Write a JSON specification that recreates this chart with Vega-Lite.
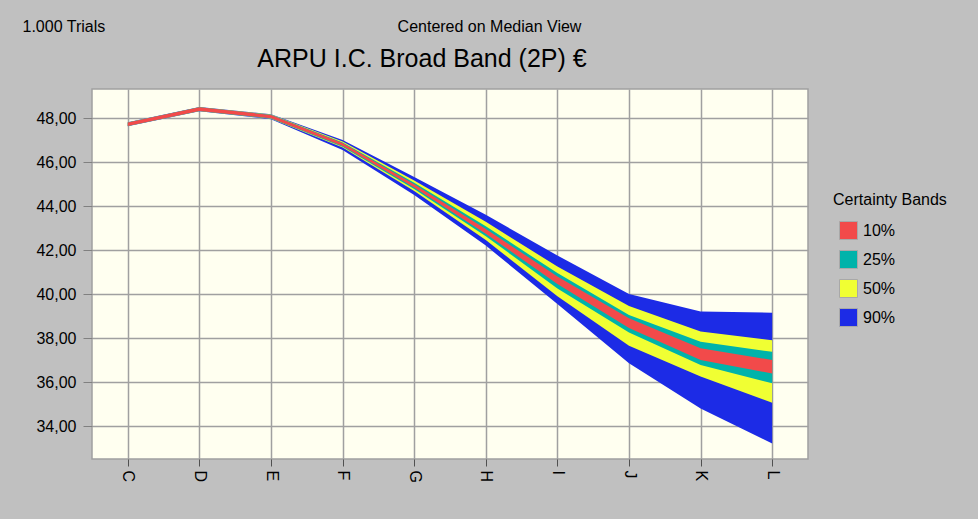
{
  "$schema": "https://vega.github.io/schema/vega-lite/v6.json",
  "width": 716,
  "height": 370,
  "autosize": {"type": "none"},
  "padding": {"left": 92, "top": 89, "right": 170, "bottom": 60},
  "background": "#C0C0C0",
  "title": {
    "text": "ARPU I.C. Broad Band (2P) €",
    "fontSize": 25,
    "fontWeight": "normal",
    "font": "Liberation Sans",
    "color": "#000000",
    "anchor": "middle",
    "frame": "group",
    "dx": -28,
    "offset": -79,
    "baseline": "bottom"
  },
  "data": {
    "values": [
      {"x": "C", "band": "90%", "lo": 47.63, "hi": 47.81},
      {"x": "D", "band": "90%", "lo": 48.31, "hi": 48.50},
      {"x": "E", "band": "90%", "lo": 47.95, "hi": 48.17},
      {"x": "F", "band": "90%", "lo": 46.55, "hi": 47.00},
      {"x": "G", "band": "90%", "lo": 44.50, "hi": 45.32},
      {"x": "H", "band": "90%", "lo": 42.20, "hi": 43.60},
      {"x": "I", "band": "90%", "lo": 39.55, "hi": 41.75},
      {"x": "J", "band": "90%", "lo": 36.85, "hi": 40.00},
      {"x": "K", "band": "90%", "lo": 34.80, "hi": 39.20},
      {"x": "L", "band": "90%", "lo": 33.20, "hi": 39.15},
      {"x": "C", "band": "50%", "lo": 47.64, "hi": 47.80},
      {"x": "D", "band": "50%", "lo": 48.32, "hi": 48.49},
      {"x": "E", "band": "50%", "lo": 47.97, "hi": 48.16},
      {"x": "F", "band": "50%", "lo": 46.66, "hi": 46.93},
      {"x": "G", "band": "50%", "lo": 44.68, "hi": 45.16},
      {"x": "H", "band": "50%", "lo": 42.45, "hi": 43.28},
      {"x": "I", "band": "50%", "lo": 39.90, "hi": 41.25},
      {"x": "J", "band": "50%", "lo": 37.65, "hi": 39.45},
      {"x": "K", "band": "50%", "lo": 36.25, "hi": 38.30},
      {"x": "L", "band": "50%", "lo": 35.06, "hi": 37.90},
      {"x": "C", "band": "25%", "lo": 47.64, "hi": 47.80},
      {"x": "D", "band": "25%", "lo": 48.32, "hi": 48.49},
      {"x": "E", "band": "25%", "lo": 47.98, "hi": 48.15},
      {"x": "F", "band": "25%", "lo": 46.70, "hi": 46.89},
      {"x": "G", "band": "25%", "lo": 44.77, "hi": 45.06},
      {"x": "H", "band": "25%", "lo": 42.63, "hi": 43.08},
      {"x": "I", "band": "25%", "lo": 40.25, "hi": 40.95},
      {"x": "J", "band": "25%", "lo": 38.25, "hi": 39.05},
      {"x": "K", "band": "25%", "lo": 36.77, "hi": 37.83},
      {"x": "L", "band": "25%", "lo": 35.94, "hi": 37.37},
      {"x": "C", "band": "10%", "lo": 47.64, "hi": 47.80},
      {"x": "D", "band": "10%", "lo": 48.32, "hi": 48.49},
      {"x": "E", "band": "10%", "lo": 47.99, "hi": 48.14},
      {"x": "F", "band": "10%", "lo": 46.73, "hi": 46.86},
      {"x": "G", "band": "10%", "lo": 44.84, "hi": 44.99},
      {"x": "H", "band": "10%", "lo": 42.74, "hi": 42.96},
      {"x": "I", "band": "10%", "lo": 40.45, "hi": 40.80},
      {"x": "J", "band": "10%", "lo": 38.45, "hi": 38.90},
      {"x": "K", "band": "10%", "lo": 37.00, "hi": 37.53},
      {"x": "L", "band": "10%", "lo": 36.39, "hi": 37.00}
    ]
  },
  "encoding": {
    "y": {
      "field": "lo",
      "type": "quantitative",
      "scale": {"domain": [32.5, 49.32], "nice": false, "zero": false},
      "title": "1.000 Trials",
      "axis": {
        "orient": "left",
        "values": [34, 36, 38, 40, 42, 44, 46, 48],
        "labelExpr": "replace(format(datum.value, '.2f'), '.', ',')",
        "labelFontSize": 16,
        "labelFont": "Liberation Sans",
        "labelColor": "#000000",
        "tickSize": 9,
        "tickColor": "#808080",
        "labelPadding": 7,
        "domain": false,
        "grid": true,
        "gridColor": "#A0A0A0",
        "gridWidth": 1.5,
        "gridOpacity": 1,
        "zindex": 0,
        "titleAngle": 0,
        "titleX": -70,
        "titleY": -58,
        "titleAlign": "left",
        "titleBaseline": "alphabetic",
        "titleFontSize": 16,
        "titleFontWeight": "normal",
        "titleFont": "Liberation Sans",
        "titleColor": "#000000"
      }
    },
    "y2": {"field": "hi"},
    "color": {
      "field": "band",
      "type": "nominal",
      "scale": {
        "domain": ["10%", "25%", "50%", "90%"],
        "range": ["#F24A4A", "#00B3AA", "#F0FF33", "#1C2BE6"]
      },
      "legend": {
        "orient": "none",
        "legendX": 741,
        "legendY": 103,
        "title": "Certainty Bands",
        "titleFontSize": 16,
        "titleFontWeight": "normal",
        "titleColor": "#000000",
        "titleFont": "Liberation Sans",
        "titlePadding": 13,
        "labelFontSize": 16,
        "labelColor": "#000000",
        "labelFont": "Liberation Sans",
        "labelOffset": 5,
        "symbolType": "square",
        "symbolSize": 324,
        "symbolOffset": 6,
        "symbolStrokeColor": "#A8A8A8",
        "symbolStrokeWidth": 1,
        "symbolOpacity": 1,
        "rowPadding": 6,
        "padding": 0
      }
    }
  },
  "layer": [
    {
      "transform": [{"filter": "datum.band === '90%'"}],
      "mark": {"type": "area", "interpolate": "linear", "opacity": 1},
      "encoding": {
        "x": {
          "field": "x",
          "type": "nominal",
          "sort": null,
          "scale": {"type": "point", "padding": 0.5},
          "axis": {
            "orient": "bottom",
            "title": null,
            "labelAngle": 90,
            "labelAlign": "left",
            "labelBaseline": "middle",
            "labelFontSize": 16,
            "labelFont": "Liberation Sans",
            "labelColor": "#000000",
            "tickSize": 7,
            "tickColor": "#505050",
            "tickWidth": 1,
            "labelPadding": 4,
            "domain": false,
            "grid": true,
            "gridColor": "#A0A0A0",
            "gridWidth": 1.5,
            "gridOpacity": 1,
            "zindex": 0
          }
        }
      }
    },
    {
      "transform": [{"filter": "datum.band === '50%'"}],
      "mark": {"type": "area", "interpolate": "linear", "opacity": 1},
      "encoding": {
        "x": {
          "field": "x",
          "type": "nominal",
          "sort": null,
          "axis": {"orient": "bottom", "labels": false, "ticks": false, "grid": false, "domain": false, "title": null}
        }
      }
    },
    {
      "transform": [{"filter": "datum.band === '25%'"}],
      "mark": {"type": "area", "interpolate": "linear", "opacity": 1},
      "encoding": {
        "x": {
          "field": "x",
          "type": "nominal",
          "sort": null,
          "axis": {"orient": "bottom", "labels": false, "ticks": false, "grid": false, "domain": false, "title": null}
        }
      }
    },
    {
      "transform": [{"filter": "datum.band === '10%'"}],
      "mark": {"type": "area", "interpolate": "linear", "opacity": 1},
      "encoding": {
        "x": {
          "field": "x",
          "type": "nominal",
          "sort": null,
          "axis": {
            "orient": "top",
            "labels": false,
            "ticks": false,
            "domain": false,
            "grid": false,
            "title": "Centered on Median View",
            "titleX": 397,
            "titleY": -58,
            "titleAlign": "center",
            "titleBaseline": "alphabetic",
            "titleFontSize": 16,
            "titleFontWeight": "normal",
            "titleFont": "Liberation Sans",
            "titleColor": "#000000"
          }
        }
      }
    }
  ],
  "config": {
    "font": "Liberation Sans",
    "view": {"fill": "#FFFFF0", "stroke": "#A0A0A0", "strokeWidth": 1.5}
  }
}
